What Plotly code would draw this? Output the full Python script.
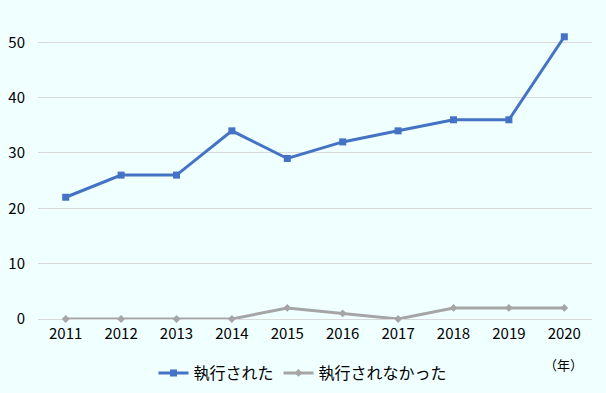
import plotly.graph_objects as go

years = ["2011", "2012", "2013", "2014", "2015", "2016", "2017", "2018", "2019", "2020"]
executed = [22, 26, 26, 34, 29, 32, 34, 36, 36, 51]
not_executed = [0, 0, 0, 0, 2, 1, 0, 2, 2, 2]
y_ticks = [0, 10, 20, 30, 40, 50]

FONT = "Noto Sans CJK JP, Liberation Sans, sans-serif"
BG = "#F0FFFF"

fig = go.Figure()
fig.add_trace(go.Scatter(
    x=years, y=executed, name="執行された", mode="lines+markers",
    line=dict(color="#4472C4", width=3),
    marker=dict(symbol="square", size=7, color="#4472C4"),
    cliponaxis=False,
))
fig.add_trace(go.Scatter(
    x=years, y=not_executed, name="執行されなかった", mode="lines+markers",
    line=dict(color="#A5A5A5", width=3),
    marker=dict(symbol="diamond", size=6, color="#A5A5A5"),
    cliponaxis=False,
))

fig.update_layout(
    width=606, height=393,
    margin=dict(l=38, r=14, t=34, b=74, autoexpand=False),
    paper_bgcolor=BG, plot_bgcolor=BG,
    font=dict(family=FONT, size=15, color="#000000"),
    showlegend=True,
    legend=dict(orientation="h", x=0.5, xanchor="center", xref="container",
                y=1 - 373 / 393, yanchor="middle", yref="container",
                font=dict(size=16), bgcolor="rgba(0,0,0,0)"),
    xaxis=dict(type="category", range=[-0.5, 9.5], showgrid=False, zeroline=False,
               showline=False, ticks="", tickfont=dict(size=15), ticklabelstandoff=4),
    yaxis=dict(range=[0, 51.5], tickvals=y_ticks, showgrid=True, gridcolor="#D9D9D9",
               gridwidth=1, zeroline=True, zerolinecolor="#D9D9D9", zerolinewidth=1,
               showline=False, ticks="", tickfont=dict(size=15), ticklabelstandoff=12),
    annotations=[dict(text="（年）", xref="paper", yref="paper", x=0.948,
                      y=-0.161, xanchor="center", yanchor="middle", showarrow=False,
                      font=dict(size=13, family=FONT))],
)

fig.write_html("out.html")
